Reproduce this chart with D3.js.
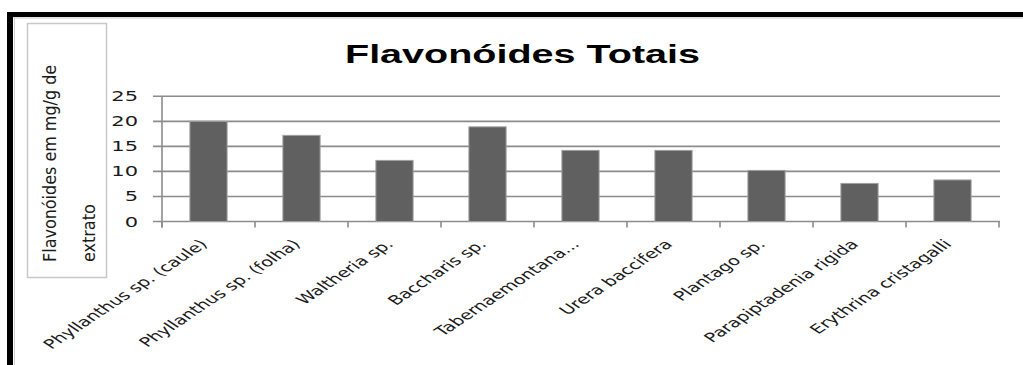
<!DOCTYPE html>
<html>
<head>
<meta charset="utf-8">
<script src="https://cdn.jsdelivr.net/npm/d3@7"></script>
<style>
  html, body { margin: 0; padding: 0; background: #fff; }
  svg { display: block; }
</style>
</head>
<body>
<svg id="chart" width="1023" height="365"></svg>
<script>
// Total flavonoid content (mg/g of extract) by plant sample
const categories = [
  "Phyllanthus sp. (caule)",
  "Phyllanthus sp. (folha)",
  "Waltheria sp.",
  "Baccharis sp.",
  "Tabernaemontana...",
  "Urera baccifera",
  "Plantago sp.",
  "Parapiptadenia rigida",
  "Erythrina cristagalli"
];
const values = [20.0, 17.2, 12.2, 18.9, 14.2, 14.2, 10.2, 7.6, 8.3];
const yTicks = [0, 5, 10, 15, 20, 25];
const title = "Flavonóides Totais";
const yTitleLines = ["Flavonóides em mg/g de", "extrato"];

const svg = d3.select("#chart");
const SX = 1.5; // horizontal stretch of the lettering

const gridColor = "#8c8c8c";
const textColor = "#1a1a1a";

// frame
svg.append("rect").attr("x", 7).attr("y", 12).attr("width", 1016).attr("height", 5).attr("fill", "#000");
svg.append("rect").attr("x", 7).attr("y", 12).attr("width", 6).attr("height", 353).attr("fill", "#000");
svg.append("line").attr("x1", 13).attr("x2", 1023).attr("y1", 18).attr("y2", 18).attr("stroke", "#c8c8c8").attr("stroke-width", 1);
svg.append("line").attr("x1", 14.5).attr("x2", 14.5).attr("y1", 17).attr("y2", 365).attr("stroke", "#d0d0d0").attr("stroke-width", 1);

// scales
const y = d3.scaleLinear().domain([0, 25]).range([221.5, 96.3]);
const x = d3.scaleBand().domain(categories).range([162, 999]).paddingInner(0.6).paddingOuter(0.3);
const step = x.step();

// gridlines
svg.append("g").selectAll("line").data(yTicks).join("line")
  .attr("x1", 153).attr("x2", 1000)
  .attr("y1", d => y(d)).attr("y2", d => y(d))
  .attr("stroke", gridColor).attr("stroke-width", 1.6);

// y axis line
svg.append("line").attr("x1", 162).attr("x2", 162)
  .attr("y1", y(25)).attr("y2", y(0) + 6)
  .attr("stroke", gridColor).attr("stroke-width", 1.6);

// category boundary ticks
const bounds = categories.map(c => x(c) - step * x.paddingOuter()).concat([x(categories[categories.length - 1]) + x.bandwidth() + step * x.paddingOuter()]);
svg.append("g").selectAll("line").data(bounds).join("line")
  .attr("x1", d => d).attr("x2", d => d)
  .attr("y1", y(0)).attr("y2", y(0) + 6)
  .attr("stroke", gridColor).attr("stroke-width", 1.6);

// bars
svg.append("g").selectAll("rect").data(values).join("rect")
  .attr("x", (d, i) => x(categories[i]))
  .attr("y", d => y(d))
  .attr("width", x.bandwidth())
  .attr("height", d => y(0) - y(d))
  .attr("fill", "#606060")
  .attr("stroke", "#a0a0a0")
  .attr("stroke-width", 1);

// y tick labels
svg.append("g").selectAll("text").data(yTicks).join("text")
  .attr("transform", d => `translate(138,${y(d) + 5}) scale(${SX},1)`)
  .attr("text-anchor", "end")
  .attr("font-family", "DejaVu Sans")
  .attr("font-size", 14)
  .attr("fill", textColor)
  .text(d => d);

// category labels
svg.append("g").selectAll("text").data(categories).join("text")
  .attr("transform", c => `translate(${x(c) + x.bandwidth() / 2},245) scale(${SX},1) rotate(-45)`)
  .attr("text-anchor", "end")
  .attr("font-family", "DejaVu Sans")
  .attr("font-size", 13)
  .attr("fill", textColor)
  .text(c => c);

// title
svg.append("text")
  .attr("x", 345).attr("y", 63)
  .attr("textLength", 355).attr("lengthAdjust", "spacingAndGlyphs")
  .attr("font-family", "Liberation Sans")
  .attr("font-weight", "bold")
  .attr("font-size", 25)
  .attr("fill", "#000")
  .text(title);

// y axis title box
svg.append("rect").attr("x", 27.5).attr("y", 23.5).attr("width", 79).attr("height", 254)
  .attr("fill", "none").attr("stroke", "#c8c8c8").attr("stroke-width", 1.5);

svg.append("g").selectAll("text").data(yTitleLines).join("text")
  .attr("transform", (d, i) => `translate(${56 + i * 39},262) scale(1.1,1) rotate(-90)`)
  .attr("text-anchor", "start")
  .attr("font-family", "DejaVu Sans")
  .attr("font-size", 16)
  .attr("fill", textColor)
  .text(d => d);
</script>
</body>
</html>
